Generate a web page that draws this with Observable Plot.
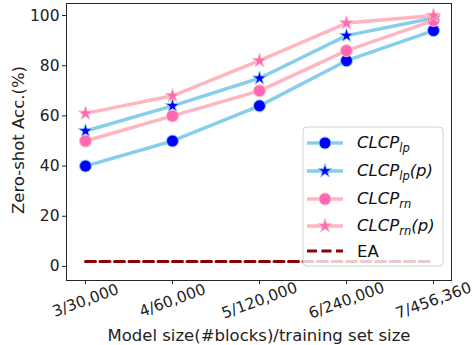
<!DOCTYPE html>
<html>
<head>
<meta charset="utf-8">
<script src="https://cdn.jsdelivr.net/npm/d3@7"></script>
<script src="https://cdn.jsdelivr.net/npm/@observablehq/plot@0.6"></script>
<style>
  html, body { margin: 0; padding: 0; background: #fff; }
  svg { display: block; font-family: "DejaVu Sans", sans-serif; }
</style>
</head>
<body>
<div id="chart"></div>
<script>
const categories = ["3/30,000", "4/60,000", "5/120,000", "6/240,000", "7/456,360"];
const clcpLp = [40, 50, 64, 82, 94];
const clcpLpP = [54, 64, 75, 92, 99];
const clcpRn = [50, 60, 70, 86, 98];
const clcpRnP = [61, 68, 82, 97, 100];
const ea = [2, 2, 2, 2, 2];
const yTicks = [0, 20, 40, 60, 80, 100];

const series = [
  {key: "lp", values: clcpLp, line: "#87CEEB", marker: "#0000FF", symbol: "circle", sub: "lp", p: false},
  {key: "lpP", values: clcpLpP, line: "#87CEEB", marker: "#0000FF", symbol: "star", sub: "lp", p: true},
  {key: "rn", values: clcpRn, line: "#FFB6C1", marker: "#FF69B4", symbol: "circle", sub: "rn", p: false},
  {key: "rnP", values: clcpRnP, line: "#FFB6C1", marker: "#FF69B4", symbol: "star", sub: "rn", p: true}
];

const rows = s => categories.map((c, i) => ({x: c, y: s.values[i]}));
const eaRows = categories.map((c, i) => ({x: c, y: ea[i]}));

const W = 476, H = 345;
const plot = Plot.plot({
  width: W,
  height: H,
  marginLeft: 66,
  marginRight: 25,
  marginTop: 3,
  marginBottom: 65,
  style: {fontFamily: "'DejaVu Sans', sans-serif", fontSize: "15px", color: "#222"},
  x: {type: "point", domain: categories, padding: 0.2, axis: null},
  y: {domain: [-5.6, 104.8], axis: null},
  marks: [
    Plot.frame({stroke: "#262626", strokeWidth: 1}),
    Plot.axisY(yTicks, {tickSize: 4, tickPadding: 3, fontSize: 15.5, fill: "#222", stroke: "#222", label: null}),
    Plot.axisX(categories, {tickSize: 4, text: null, label: null, stroke: "#222"}),
    Plot.text(categories, {x: d => d, frameAnchor: "bottom", dy: 20, rotate: -20, textAnchor: "middle", lineAnchor: "middle", fontSize: 15.5, fill: "#222"}),
    ...series.flatMap(s => [
      Plot.line(rows(s), {x: "x", y: "y", stroke: s.line, strokeWidth: 3.5}),
      Plot.dot(rows(s), {x: "x", y: "y", symbol: () => s.symbol, r: s.symbol === "star" ? 4.4 : 6, fill: s.marker, stroke: s.line, strokeWidth: 1})
    ]),
    Plot.line(eaRows, {x: "x", y: "y", stroke: "#8B0000", strokeWidth: 3, strokeDasharray: "10,4.5"}),
    Plot.text(["Zero-shot Acc.(%)"], {frameAnchor: "left", dx: -48, dy: -2, rotate: -90, textAnchor: "middle", lineAnchor: "middle", fontSize: 16.5, fill: "#222"}),
    Plot.text(["Model size(#blocks)/training set size"], {frameAnchor: "bottom", dy: 55, textAnchor: "middle", lineAnchor: "middle", fontSize: 16.5, fill: "#222"})
  ]
});

// legend
const svg = d3.select(plot);
const lg = svg.append("g").attr("font-family", "'DejaVu Sans', sans-serif").attr("text-anchor", "start");
lg.append("rect").attr("x", 303).attr("y", 127).attr("width", 140).attr("height", 139)
  .attr("rx", 4).attr("fill", "white").attr("fill-opacity", 0.8).attr("stroke", "#d0d0d0");
const rowY = [143, 171, 199, 226, 251];
const starPath = d3.symbol(d3.symbolStar).size(Math.PI * 4.4 * 4.4)();
series.forEach((s, i) => {
  const y = rowY[i];
  lg.append("line").attr("x1", 307).attr("x2", 343).attr("y1", y).attr("y2", y)
    .attr("stroke", s.line).attr("stroke-width", 3.5);
  if (s.symbol === "circle") {
    lg.append("circle").attr("cx", 325).attr("cy", y).attr("r", 6).attr("fill", s.marker).attr("stroke", s.line);
  } else {
    lg.append("path").attr("d", starPath).attr("transform", `translate(325,${y})`).attr("fill", s.marker).attr("stroke", s.line);
  }
  const t = lg.append("text").attr("x", 357).attr("y", y + 5).attr("font-size", 16.5).attr("fill", "#111").attr("font-style", "italic");
  t.append("tspan").text("CLCP");
  t.append("tspan").attr("dy", 4).attr("font-size", 11.5).text(s.sub);
  if (s.p) t.append("tspan").attr("dy", -4).attr("font-size", 16.5).text("(p)");
});
lg.append("line").attr("x1", 307).attr("x2", 343).attr("y1", rowY[4]).attr("y2", rowY[4])
  .attr("stroke", "#8B0000").attr("stroke-width", 3).attr("stroke-dasharray", "10,4.5");
lg.append("text").attr("x", 357).attr("y", rowY[4] + 6).attr("font-size", 16.5).attr("fill", "#111").text("EA");

document.getElementById("chart").appendChild(plot);
</script>
</body>
</html>
